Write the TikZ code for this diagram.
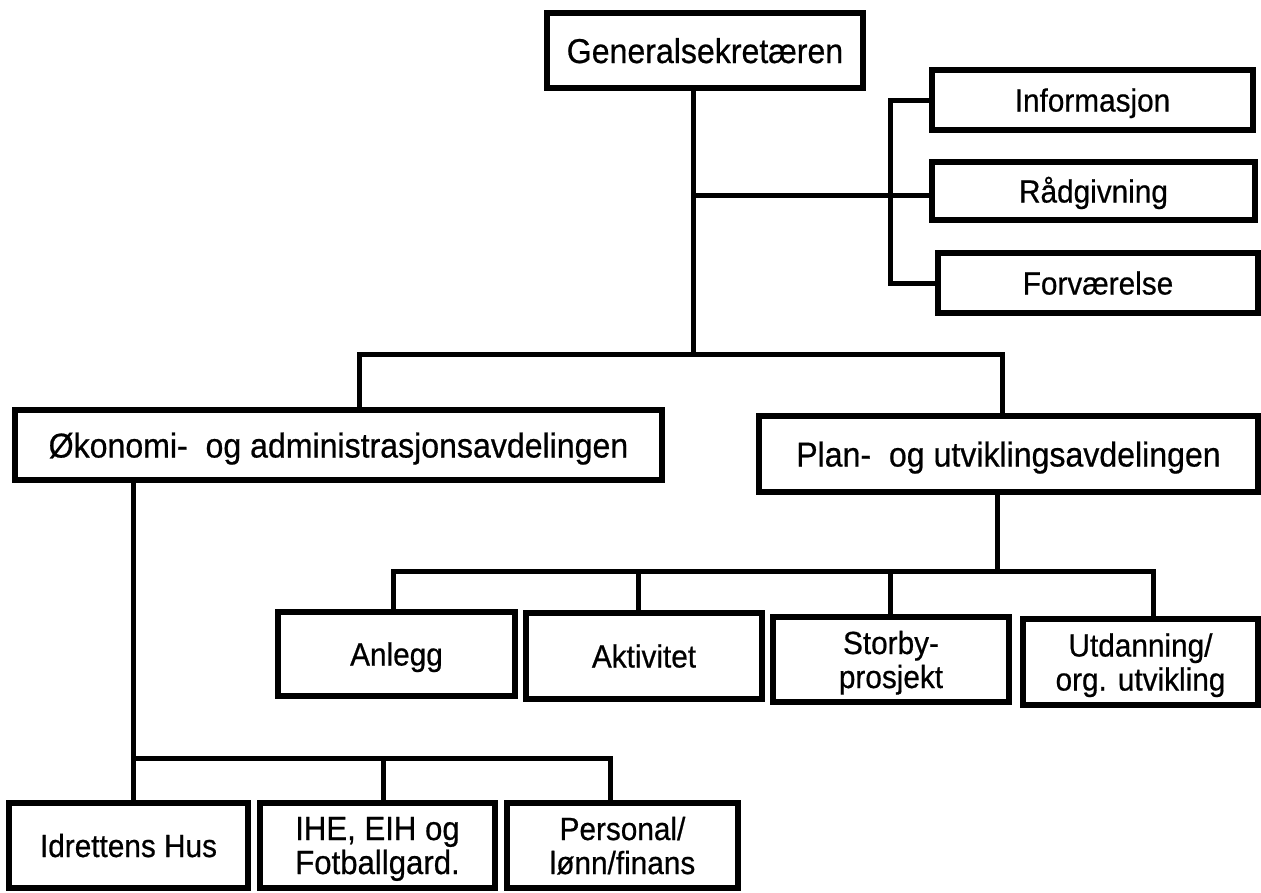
\documentclass[tikz,border=0pt]{standalone}
\usepackage{fontspec}
\setmainfont{Liberation Sans}[FakeStretch=0.93,FakeBold=0.6]
\tikzset{
  box/.style={draw, line width=6pt, inner sep=0pt, outer sep=0pt, align=center,
    font=\fontsize{32}{34}\selectfont, text height=23pt, text depth=0pt},
  bigtext/.style={font=\fontsize{34.5}{36}\selectfont, text height=25pt},
  twoline/.style={text height=57pt, text depth=0pt},
  conn/.style={line width=5pt, line cap=rect, line join=miter}
}
\begin{document}
\begin{tikzpicture}[x=1pt,y=-1pt]
\useasboundingbox (0,0) rectangle (1261,892);
% boxes
\node[box, bigtext, minimum width=316pt, minimum height=75pt] (gs) at (705,50.5) {Generalsekretæren};
\node[box, minimum width=321pt, minimum height=60pt] (info) at (1092.5,100) {Informasjon};
\node[box, minimum width=323pt, minimum height=58pt] (rad) at (1093.5,191) {Rådgivning};
\node[box, minimum width=320pt, minimum height=60pt] (forv) at (1098,283) {Forværelse};
\node[box, bigtext, minimum width=647pt, minimum height=70pt] (oko) at (338.5,445) {Økonomi-\ \ og administrasjonsavdelingen};
\node[box, bigtext, minimum width=499pt, minimum height=76pt] (plan) at (1008.5,454) {Plan-\ \ og utviklingsavdelingen};
\node[box, minimum width=237pt, minimum height=84pt] (anl) at (396.5,654) {Anlegg};
\node[box, minimum width=236pt, minimum height=86pt] (akt) at (644,656) {Aktivitet};
\node[box, twoline, minimum width=236pt, minimum height=85pt] (stor) at (891,659.5) {Storby-\\prosjekt};
\node[box, twoline, minimum width=235pt, minimum height=86pt] (utd) at (1140.5,662) {Utdanning/\\org. utvikling};
\node[box, minimum width=239pt, minimum height=85pt] (idr) at (128.5,845.5) {Idrettens Hus};
\node[box, twoline, minimum width=235pt, minimum height=85pt, font=\fontsize{33.5}{34}\selectfont] (ihe) at (377.5,845.5) {IHE, EIH og\\Fotballgard.};
\node[box, twoline, minimum width=231pt, minimum height=85pt] (pers) at (622.5,845.5) {Personal/\\lønn/finans};
% junction coordinates
\coordinate (j1) at (693,354);
\coordinate (hl) at (359,354);
\coordinate (hr) at (1002,354);
\coordinate (jr) at (693,195);
\coordinate (bx) at (890,0);
\coordinate (pd) at (997,571);
\coordinate (p1) at (393,571);
\coordinate (p2) at (638,571);
\coordinate (p3) at (890,571);
\coordinate (p4) at (1153,571);
\coordinate (od) at (133,758);
\coordinate (o2) at (383,758);
\coordinate (o3) at (610,758);
% connectors
\draw[conn] (gs.south -| j1) -- (j1);
\draw[conn] (oko.north -| hl) -- (hl) -- (hr) -- (plan.north -| hr);
\draw[conn] (info.west) -- (info.west -| bx) -- (forv.west -| bx) -- (forv.west);
\draw[conn] (jr) -- (jr -| rad.west);
\draw[conn] (plan.south -| pd) -- (pd);
\draw[conn] (anl.north -| p1) -- (p1) -- (p4) -- (utd.north -| p4);
\draw[conn] (p2) -- (akt.north -| p2);
\draw[conn] (p3) -- (stor.north -| p3);
\draw[conn] (oko.south -| od) -- (od) -- (o3) -- (pers.north -| o3);
\draw[conn] (od) -- (idr.north -| od);
\draw[conn] (o2) -- (ihe.north -| o2);
\end{tikzpicture}
\end{document}
